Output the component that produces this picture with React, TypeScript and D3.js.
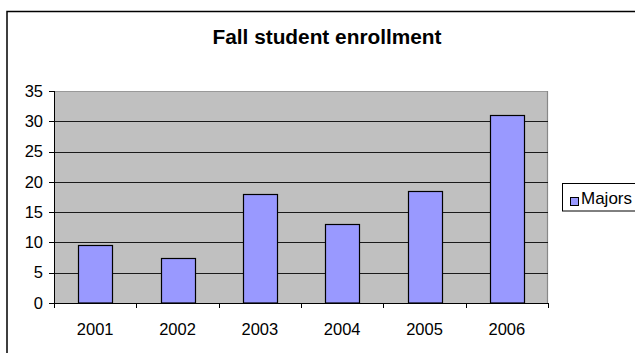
import React from "react";
import * as d3 from "d3";

const categories = ["2001", "2002", "2003", "2004", "2005", "2006"];
const majors = [9.5, 7.5, 18, 13, 18.5, 31];
const yTicks = [0, 5, 10, 15, 20, 25, 30, 35];
const title = "Fall student enrollment";
const seriesName = "Majors";

export default function App() {
  const W = 635, H = 353;
  const left = 54, right = 548, top = 91, bottom = 303;
  const x = d3.scaleBand<string>().domain(categories).range([left, right]).paddingInner(0.59).paddingOuter(0.295);
  const y = d3.scaleLinear().domain([0, 35]).range([bottom, top]);
  const step = (right - left) / categories.length;
  const boundaries = d3.range(categories.length + 1).map((i) => left + i * step);
  const font = "'Liberation Sans', Arial, sans-serif";
  return (
    <svg width={W} height={H} style={{ position: "absolute", left: 0, top: 0, background: "#fff" }} fontFamily={font}>
      <rect x={7} y={11.5} width={700} height={400} fill="#fff" stroke="#000" strokeWidth={1.5} />
      <text x={327} y={43.5} textAnchor="middle" fontSize={20} fontWeight="bold" textLength={229} lengthAdjust="spacingAndGlyphs">{title}</text>
      <rect x={left} y={top} width={right - left} height={bottom - top} fill="#c0c0c0" />
      <line x1={left} x2={right} y1={top + 0.5} y2={top + 0.5} stroke="#999" strokeWidth={1} />
      <line x1={right - 0.5} x2={right - 0.5} y1={top} y2={bottom} stroke="#888" strokeWidth={1.2} />
      {yTicks.filter((t) => t > 0 && t < 35).map((t) => (
        <line key={"g" + t} x1={left} x2={right} y1={Math.round(y(t)) + 0.5} y2={Math.round(y(t)) + 0.5} stroke="#1a1a1a" strokeWidth={1} />
      ))}
      {categories.map((c, i) => (
        <rect key={c} x={Math.round(x(c)!) + 0.5} y={Math.round(y(majors[i])) + 0.5} width={Math.round(x.bandwidth())} height={Math.round(bottom - y(majors[i])) - 0.5} fill="#9999ff" stroke="#000" strokeWidth={1.2} />
      ))}
      <line x1={left + 0.5} x2={left + 0.5} y1={top} y2={bottom} stroke="#000" strokeWidth={1} />
      <line x1={left} x2={right} y1={bottom + 0.5} y2={bottom + 0.5} stroke="#000" strokeWidth={1} />
      {yTicks.map((t) => (
        <g key={"y" + t}>
          <line x1={left - 5} x2={left} y1={Math.round(y(t)) + 0.5} y2={Math.round(y(t)) + 0.5} stroke="#000" />
          <text x={43} y={y(t)} dy="0.35em" textAnchor="end" fontSize={16.5}>{t}</text>
        </g>
      ))}
      {boundaries.map((b, i) => (
        <line key={"xt" + i} x1={Math.round(b) + 0.5} x2={Math.round(b) + 0.5} y1={bottom} y2={bottom + 5} stroke="#000" />
      ))}
      {categories.map((c) => (
        <text key={"xl" + c} x={x(c)! + x.bandwidth() / 2} y={335} textAnchor="middle" fontSize={16.5}>{c}</text>
      ))}
      <rect x={562.5} y={183.5} width={100} height={27.5} fill="#fff" stroke="#000" strokeWidth={1} />
      <rect x={570.5} y={197.5} width={8} height={8} fill="#9999ff" stroke="#000" strokeWidth={1} />
      <text x={581} y={203.5} fontSize={17}>{seriesName}</text>
    </svg>
  );
}
